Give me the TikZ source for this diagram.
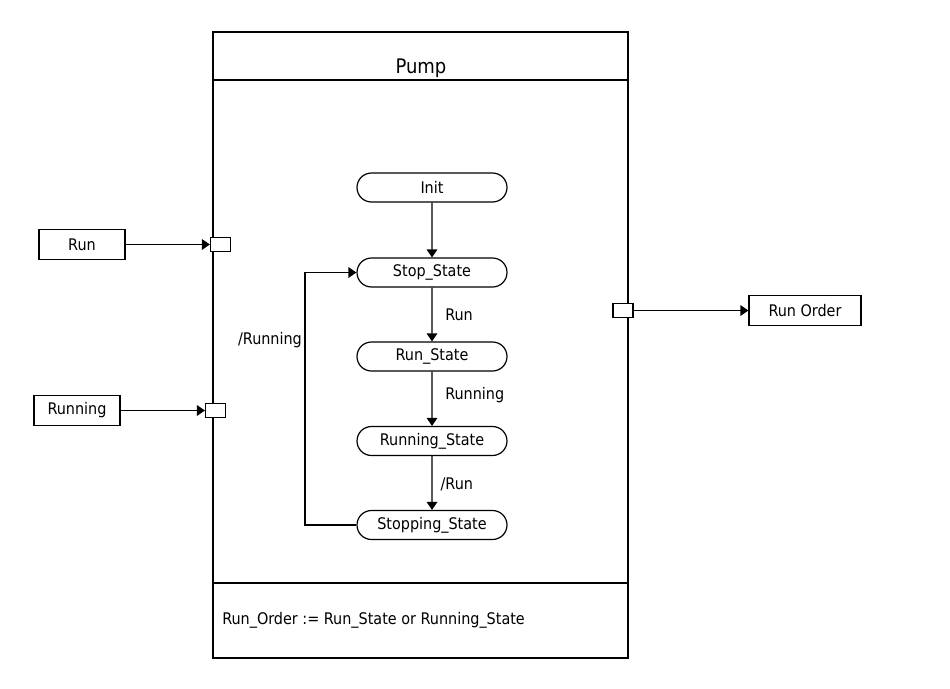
\documentclass[tikz,border=0pt]{standalone}
\usepackage{fontspec}
\setmainfont{DejaVu Sans Condensed}
\usetikzlibrary{arrows.meta,shapes.misc}
\tikzset{
  px/.style={x=0.75pt,y=-0.75pt},
  ln/.style={line width=0.9pt},
  arr/.style={ln,-{Triangle[length=6pt,width=8pt]}},
  txt/.style={font=\fontsize{12}{14}\selectfont},
  statebox/.style={draw,ln,txt,rounded rectangle,minimum width=112.5pt,minimum height=21.75pt,inner sep=0pt},
  iobox/.style={draw,ln,txt,rectangle,minimum height=22.5pt,inner sep=0pt},
  port/.style={draw,ln,rectangle,minimum width=15pt,minimum height=11pt,inner sep=0pt,fill=white},
  lbl/.style={txt,inner sep=0pt}
}
\begin{document}
\begin{tikzpicture}[px]
\useasboundingbox (0,0) rectangle (950,689);
% main block
\draw[ln] (213,32) rectangle (628,658);
\draw[ln] (213,80) -- (628,80);
\draw[ln] (213,583) -- (628,583);
\node[font=\fontsize{15}{17}\selectfont] (pump) at (421,68) {Pump};
% states
\node[statebox] (init) at (432,187.5) {Init};
\node[statebox] (stop) at (432,272.5) {Stop\_State};
\node[statebox] (run) at (432,356.5) {Run\_State};
\node[statebox] (running) at (432,441) {Running\_State};
\node[statebox] (stopping) at (432,525) {Stopping\_State};
\draw[arr] (init) -- (stop);
\draw[arr] (stop) -- node[lbl,anchor=west,xshift=9.5pt] {Run} (run);
\draw[arr] (run) -- node[lbl,anchor=west,xshift=9.5pt,yshift=2.5pt] {Running} (running);
\draw[arr] (running) -- node[lbl,anchor=west,xshift=6pt,yshift=-1pt] {/Run} (stopping);
\coordinate (c1) at (305,525);
\coordinate (c2) at (305,272.5);
\draw[arr] (stopping.west) -- (c1) -- (c2) -- (stop.west);
\node[lbl] (lrunning) at (270,340) {/Running};
% ports
\node[port] (prun) at (220.5,244.5) {};
\node[port] (prunning) at (215.5,410.5) {};
\node[port] (pout) at (623,310.5) {};
% io boxes
\node[iobox,minimum width=64.5pt] (inrun) at (82,244.5) {Run};
\node[iobox,minimum width=64.5pt] (inrunning) at (77,410.5) {Running};
\node[iobox,minimum width=84pt] (outorder) at (805,310.5) {Run Order};
\draw[arr] (inrun) -- (prun);
\draw[arr] (inrunning) -- (prunning);
\draw[arr] (pout) -- (outorder);
% footer
\node[lbl,anchor=west] (footer) at (222,620) {Run\_Order := Run\_State or Running\_State};
\end{tikzpicture}
\end{document}
